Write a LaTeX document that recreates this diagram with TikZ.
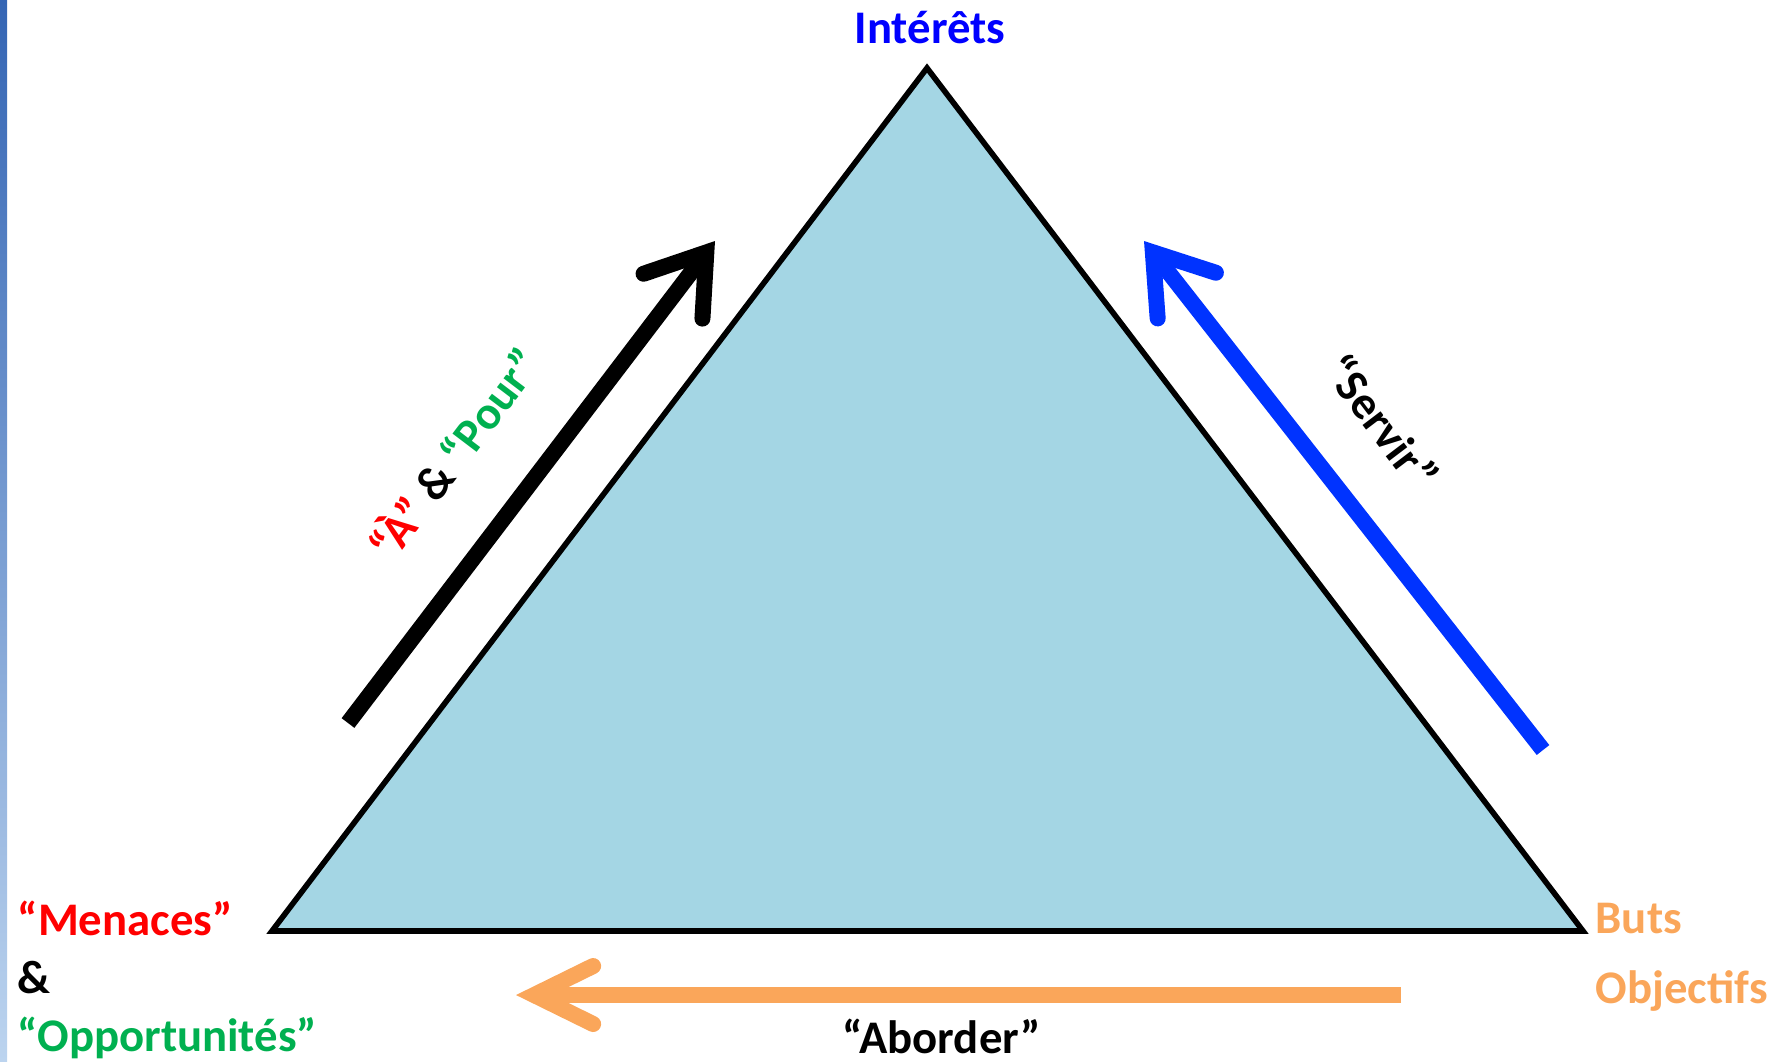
\documentclass[tikz,border=0pt]{standalone}
\usepackage{fontspec}
\setmainfont{Carlito}
\usepackage{xcolor}
\usepackage{tikz}
\usetikzlibrary{arrows.meta,positioning}
\definecolor{triblue}{HTML}{A4D6E4}
\definecolor{arrowblue}{HTML}{0033FF}
\definecolor{titleblue}{HTML}{0000FF}
\definecolor{arroworange}{HTML}{FAA65A}
\definecolor{menred}{HTML}{FF0000}
\definecolor{oppgreen}{HTML}{00B050}
\definecolor{stripdark}{HTML}{3465B4}
\definecolor{striplight}{HTML}{BCD4EF}
\tikzset{
  cornerlabel/.style={font=\fontsize{13.3}{16}\selectfont\bfseries, inner sep=0pt},
  bigarrow/.style={line width=0.16cm, -{Straight Barb[length=0.55cm, width=0.74cm, line cap=round]}}
}

\begin{document}
\begin{tikzpicture}
\useasboundingbox (0,0) rectangle (17.73,-10.61);
\shade[top color=stripdark, bottom color=striplight] (0,0) rectangle (0.07,-10.61);
% triangle
\coordinate (apex) at (9.27,-0.68);
\coordinate (left) at (2.72,-9.31);
\coordinate (right) at (15.83,-9.31);
\draw[line width=1.6pt, fill=triblue, line join=miter] (left) -- (apex) -- (right) -- cycle;
% arrows along the sides
\coordinate (atail) at (3.48,-7.23);
\coordinate (ahead) at (7.15,-2.41);
\coordinate (stail) at (15.43,-7.50);
\coordinate (shead) at (11.44,-2.41);
\coordinate (btail) at (14.01,-9.95);
\coordinate (bhead) at (5.16,-9.95);
\draw[bigarrow, black] (atail) -- (ahead);
\draw[bigarrow, arrowblue] (stail) -- (shead);
\draw[bigarrow, arroworange, -{Straight Barb[length=0.59cm, width=0.58cm, line cap=round]}] (btail) -- (bhead);
% labels
\node[cornerlabel, text=titleblue, anchor=base] (interets) at (9.30,-0.43) {Intérêts};
\node[cornerlabel, text=menred, anchor=base west] (menaces) at (0.17,-9.35) {“Menaces”};
\node[cornerlabel, anchor=base west] (et) at ([yshift=-0.58cm]menaces.base west) {\&};
\node[cornerlabel, text=oppgreen, anchor=base west] (opport) at ([yshift=-0.58cm]et.base west) {“Opportunités”};
\node[cornerlabel, text=arroworange, anchor=base west] (buts) at (15.95,-9.33) {Buts};
\node[cornerlabel, text=arroworange, anchor=base west] (objectifs) at ([yshift=-0.70cm]buts.base west) {Objectifs};
\node[cornerlabel, anchor=base] (aborder) at (9.42,-10.53) {“Aborder”};
\node[cornerlabel, rotate=-52.8] (servir) at (13.82,-4.22) {“Servir”};
\node[cornerlabel, rotate=52.8] (pour) at (4.53,-4.52) {\textcolor{menred}{“À”} \& \textcolor{oppgreen}{“Pour”}};
\end{tikzpicture}
\end{document}
